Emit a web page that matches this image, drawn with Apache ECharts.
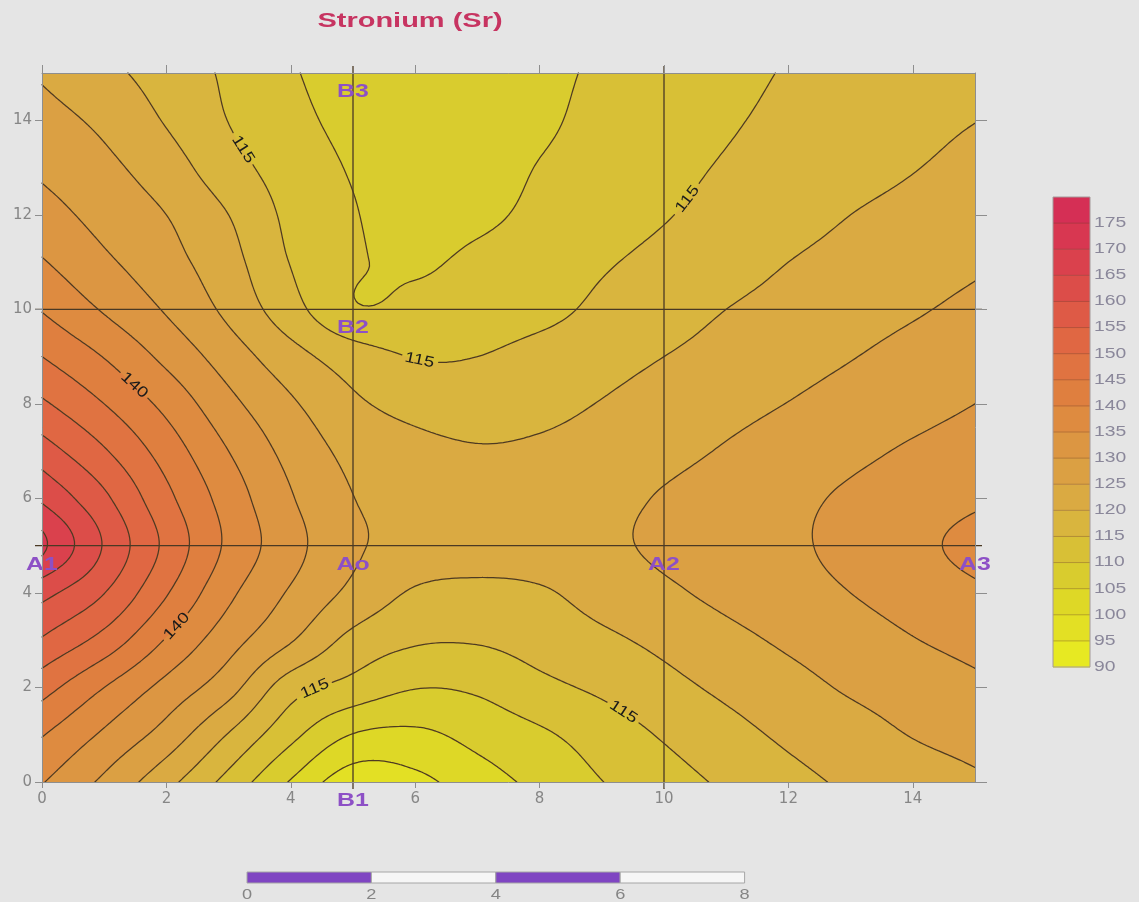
<!DOCTYPE html>
<html>
<head>
<meta charset="utf-8">
<title>Stronium (Sr)</title>
<script src="https://cdn.jsdelivr.net/npm/echarts@6.0.0/dist/echarts.min.js"></script>
<style>
  html, body { margin: 0; padding: 0; background: #e5e5e5; }
  #chart { width: 1139px; height: 902px; }
</style>
</head>
<body>
<div id="chart"></div>
<script>
// ---------------------------------------------------------------
// Survey grid (m) and Sr concentration at every grid node.
// srRows[j][i] is the value at x = gridX[i], y = gridY[j] (rows from y = 0 upward).
// ---------------------------------------------------------------
const gridX = [0, 1, 2, 3, 4, 5, 6, 7, 8, 9, 10, 11, 12, 13, 14, 15];
const gridY = [0, 1, 2, 3, 4, 5, 6, 7, 8, 9, 10, 11, 12, 13, 14, 15];
const srRows = [
  [135.3, 129.0, 121.6, 113.3, 104.6,  97.0,  98.6, 102.7, 106.3, 109.9, 112.9, 115.8, 118.5, 120.8, 122.6, 124.3], // y=0
  [140.3, 134.2, 128.0, 119.7, 111.4, 104.8, 104.0, 106.6, 109.2, 112.3, 115.5, 118.3, 120.9, 123.0, 125.2, 126.6], // y=1
  [147.0, 140.0, 133.4, 126.9, 117.2, 113.2, 110.2, 110.8, 113.7, 115.9, 118.5, 121.0, 123.3, 125.6, 127.3, 129.0], // y=2
  [154.5, 148.2, 139.6, 132.0, 125.4, 118.5, 115.6, 115.4, 117.0, 119.0, 121.2, 123.6, 125.8, 127.8, 129.8, 131.5], // y=3
  [161.6, 155.1, 145.4, 136.1, 129.4, 123.8, 119.4, 118.6, 119.4, 121.9, 124.1, 126.2, 128.1, 130.0, 132.0, 134.1], // y=4
  [171.0, 159.6, 148.8, 139.0, 131.8, 125.8, 123.4, 122.6, 122.8, 124.0, 125.9, 127.6, 129.2, 131.3, 133.7, 136.5], // y=5
  [164.2, 156.0, 146.3, 137.8, 130.4, 125.1, 123.2, 122.2, 122.4, 123.6, 125.4, 127.2, 128.9, 130.7, 132.5, 134.2], // y=6
  [157.3, 150.5, 142.8, 135.0, 128.4, 123.6, 121.5, 120.4, 120.8, 122.0, 123.6, 125.4, 127.2, 128.9, 130.6, 132.1], // y=7
  [150.8, 145.0, 138.6, 131.4, 125.7, 120.9, 118.4, 117.6, 118.6, 120.2, 121.9, 123.5, 125.1, 126.8, 128.4, 130.0], // y=8
  [145.0, 139.8, 133.7, 127.6, 121.9, 117.4, 114.8, 115.0, 116.7, 118.3, 120.0, 121.6, 123.2, 124.8, 126.5, 128.0], // y=9
  [139.7, 134.5, 129.5, 123.8, 116.9, 110.5, 111.3, 112.2, 113.6, 116.0, 118.0, 120.0, 121.5, 123.0, 124.5, 126.1], // y=10
  [135.4, 130.9, 126.8, 121.8, 114.8, 110.6, 109.4, 111.0, 112.7, 114.5, 116.3, 118.1, 120.0, 121.5, 122.9, 124.3], // y=11
  [132.0, 128.3, 125.0, 120.0, 113.8, 110.3, 108.2, 109.0, 111.1, 112.9, 114.7, 116.5, 118.2, 120.0, 121.4, 122.8], // y=12
  [129.1, 126.2, 122.3, 116.9, 112.7, 109.6, 107.8, 108.0, 110.2, 111.9, 113.7, 115.4, 116.8, 118.3, 119.8, 121.3], // y=13
  [126.8, 123.9, 119.6, 114.9, 111.4, 108.6, 107.1, 107.4, 109.2, 111.3, 112.9, 114.5, 116.0, 117.2, 118.6, 119.9], // y=14
  [124.4, 121.3, 117.8, 114.2, 110.5, 107.6, 106.5, 107.2, 108.8, 110.7, 112.2, 113.7, 115.3, 116.3, 117.2, 118.0]  // y=15
];

// Colour classes (ppm) and their fills
const bandEdges = [90, 95, 100, 105, 110, 115, 120, 125, 130, 135, 140, 145, 150, 155, 160, 165, 170, 175, 180];
const bandColors = [
  '#e7e922', '#e3e024', '#ded826', '#d9cc2e', '#d8c036', '#d9b53e',
  '#daaa42', '#dba043', '#dc9642', '#de8b40', '#df7f3f', '#e07341',
  '#e06743', '#de5a46', '#dc4d49', '#da414d', '#d83751', '#d52f55'
];
// Isolines
const contourLevels = [95, 100, 105, 110, 115, 120, 125, 130, 135, 140, 145, 150, 155, 160, 165, 170, 175];
// Inline isoline labels: level and approximate location
const labelLevels = [115, 115, 115, 140, 140, 115, 115];
const labelX = [3.16, 10.38, 6.06, 1.55, 2.20, 4.37, 9.38];
const labelY = [13.35, 12.33, 8.89, 8.45, 3.27, 2.00, 1.52];
// Sampling stations
const siteNames = ['A1', 'Ao', 'A2', 'A3', 'B1', 'B2', 'B3'];
const siteX = [0, 5, 10, 15, 5, 5, 5];
const siteY = [5, 5, 5, 5, 0, 10, 15];
// Survey traverses
const traverseX = [5, 10];
const traverseY = [5, 10];
// Axis ticks and scale bar divisions
const axisTicks = [0, 2, 4, 6, 8, 10, 12, 14];
const scaleBarTicks = [0, 2, 4, 6, 8];

// ---------------------------------------------------------------
// Bicubic (Catmull-Rom) surface through the grid nodes
// ---------------------------------------------------------------
const NX = gridX.length, NY = gridY.length;
const stepX = gridX[1] - gridX[0], stepY = gridY[1] - gridY[0];

function node(i, j) {
  if (i < 0) return 2 * node(0, j) - node(1, j);
  if (i > NX - 1) return 2 * node(NX - 1, j) - node(NX - 2, j);
  if (j < 0) return 2 * node(i, 0) - node(i, 1);
  if (j > NY - 1) return 2 * node(i, NY - 1) - node(i, NY - 2);
  return srRows[j][i];
}
function catmull(p0, p1, p2, p3, t) {
  const t2 = t * t, t3 = t2 * t;
  return 0.5 * (2 * p1 + (p2 - p0) * t + (2 * p0 - 5 * p1 + 4 * p2 - p3) * t2 + (3 * p1 - p0 - 3 * p2 + p3) * t3);
}
function field(x, y) {
  const gx = (x - gridX[0]) / stepX, gy = (y - gridY[0]) / stepY;
  const i = Math.max(0, Math.min(Math.floor(gx), NX - 2));
  const j = Math.max(0, Math.min(Math.floor(gy), NY - 2));
  const tx = gx - i, ty = gy - j;
  const c = [];
  for (let m = -1; m <= 2; m++) {
    c.push(catmull(node(i - 1, j + m), node(i, j + m), node(i + 1, j + m), node(i + 2, j + m), tx));
  }
  return catmull(c[0], c[1], c[2], c[3], ty);
}
function grad(x, y) {
  const e = 1e-3;
  return [(field(x + e, y) - field(x - e, y)) / (2 * e), (field(x, y + e) - field(x, y - e)) / (2 * e)];
}

// dense evaluation lattice used for the filled classes and isolines
const FN = 180;
const xMin = gridX[0], xMax = gridX[NX - 1], yMin = gridY[0], yMax = gridY[NY - 1];
const fdx = (xMax - xMin) / FN, fdy = (yMax - yMin) / FN;
const fine = [];
for (let j = 0; j <= FN; j++) {
  const r = new Float64Array(FN + 1);
  for (let i = 0; i <= FN; i++) r[i] = field(xMin + i * fdx, yMin + j * fdy);
  fine.push(r);
}

// place each isoline label exactly on its isoline
const isoLabels = labelLevels.map((L, k) => {
  let x = labelX[k], y = labelY[k];
  for (let it = 0; it < 30; it++) {
    const v = field(x, y) - L;
    if (Math.abs(v) < 1e-5) break;
    const g = grad(x, y), g2 = g[0] * g[0] + g[1] * g[1];
    if (g2 < 1e-9) break;
    x -= v * g[0] / g2; y -= v * g[1] / g2;
  }
  return { L: L, x: x, y: y };
});

function pixelMap(api) {
  const o = api.coord([0, 0]), u = api.coord([1, 1]);
  const sx = u[0] - o[0], sy = u[1] - o[1];
  return { sx: sx, sy: sy, f: (x, y) => [o[0] + x * sx, o[1] + y * sy] };
}
function fmt(p) { return p[0].toFixed(2) + ' ' + p[1].toFixed(2); }

function cellTriangles(i, j) {
  const xa = xMin + i * fdx, xb = xa + fdx, ya = yMin + j * fdy, yb = ya + fdy;
  const v00 = fine[j][i], v10 = fine[j][i + 1], v11 = fine[j + 1][i + 1], v01 = fine[j + 1][i];
  return [
    [[xa, ya, v00], [xb, ya, v10], [xb, yb, v11]],
    [[xa, ya, v00], [xb, yb, v11], [xa, yb, v01]]
  ];
}
function clipAbove(T, L) {
  const out = [];
  for (let k = 0; k < 3; k++) {
    const A = T[k], B = T[(k + 1) % 3];
    const ain = A[2] >= L, bin = B[2] >= L;
    if (ain) out.push(A);
    if (ain !== bin) {
      const t = (L - A[2]) / (B[2] - A[2]);
      out.push([A[0] + t * (B[0] - A[0]), A[1] + t * (B[1] - A[1]), L]);
    }
  }
  return out;
}
function triSegment(T, L) {
  const pts = [];
  for (let k = 0; k < 3; k++) {
    const A = T[k], B = T[(k + 1) % 3];
    if ((A[2] >= L) !== (B[2] >= L)) {
      const t = (L - A[2]) / (B[2] - A[2]);
      pts.push([A[0] + t * (B[0] - A[0]), A[1] + t * (B[1] - A[1])]);
    }
  }
  return pts.length === 2 ? pts : null;
}

// region where Sr >= L
function regionPath(L, f) {
  let d = '';
  for (let j = 0; j < FN; j++) {
    const ya = yMin + j * fdy, yb = ya + fdy;
    let run = -1;
    const flush = (iEnd) => {
      if (run >= 0) {
        const xa = xMin + run * fdx, xb = xMin + iEnd * fdx;
        d += 'M' + fmt(f(xa, ya)) + 'L' + fmt(f(xb, ya)) + 'L' + fmt(f(xb, yb)) + 'L' + fmt(f(xa, yb)) + 'Z';
        run = -1;
      }
    };
    for (let i = 0; i < FN; i++) {
      const a = fine[j][i], b = fine[j][i + 1], c = fine[j + 1][i + 1], e = fine[j + 1][i];
      const mn = Math.min(a, b, c, e), mx = Math.max(a, b, c, e);
      if (mn >= L) { if (run < 0) run = i; continue; }
      flush(i);
      if (mx < L) continue;
      for (const T of cellTriangles(i, j)) {
        const poly = clipAbove(T, L);
        if (poly.length >= 3) {
          d += 'M' + fmt(f(poly[0][0], poly[0][1]));
          for (let k = 1; k < poly.length; k++) d += 'L' + fmt(f(poly[k][0], poly[k][1]));
          d += 'Z';
        }
      }
    }
    flush(FN);
  }
  return d;
}

// isoline at level L, broken where its labels sit
function isolinePath(L, f, gaps) {
  let d = '';
  for (let j = 0; j < FN; j++) {
    for (let i = 0; i < FN; i++) {
      const a = fine[j][i], b = fine[j][i + 1], c = fine[j + 1][i + 1], e = fine[j + 1][i];
      const mn = Math.min(a, b, c, e), mx = Math.max(a, b, c, e);
      if (mn >= L || mx < L) continue;
      for (const T of cellTriangles(i, j)) {
        const s = triSegment(T, L);
        if (!s) continue;
        const p = f(s[0][0], s[0][1]), q = f(s[1][0], s[1][1]);
        const mx2 = (p[0] + q[0]) / 2, my2 = (p[1] + q[1]) / 2;
        let skip = false;
        for (const g of gaps) {
          if (Math.hypot(mx2 - g[0], my2 - g[1]) < g[2]) { skip = true; break; }
        }
        if (!skip) d += 'M' + fmt(p) + 'L' + fmt(q);
      }
    }
  }
  return d;
}

// ---------------------------------------------------------------
// Chart
// ---------------------------------------------------------------
const chart = echarts.init(document.getElementById('chart'), null, { renderer: 'canvas' });
const frameColor = '#8e8e8e';
const lineColor = '#4e3a22';

function axisCommon(pos, tickLen, showLabel) {
  return {
    type: 'value', min: 0, max: 15, interval: 2, position: pos, z: 10,
    axisLine: { show: true, onZero: false, lineStyle: { color: frameColor, width: 1 } },
    axisTick: { show: true, inside: false, length: tickLen, customValues: axisTicks, lineStyle: { color: frameColor, width: 1 } },
    axisLabel: {
      show: showLabel, customValues: axisTicks, margin: 10, color: '#868686',
      fontSize: 15, fontFamily: 'DejaVu Sans'
    },
    splitLine: { show: false }
  };
}

const option = {
  animation: false,
  backgroundColor: '#e5e5e5',
  grid: { left: 42, right: 164, top: 73, bottom: 120, containLabel: false },
  xAxis: [axisCommon('bottom', 6, true), axisCommon('top', 8, false)],
  yAxis: [axisCommon('left', 7, true), axisCommon('right', 12, false)],
  series: [
    {
      type: 'custom', name: 'Sr classes', coordinateSystem: 'cartesian2d', silent: true, z: 1,
      data: bandColors.map(() => [xMin, yMin]),
      renderItem: function (params, api) {
        const k = params.dataIndex;
        const M = pixelMap(api);
        const d = regionPath(bandEdges[k], M.f);
        return { type: 'path', shape: { pathData: d || 'M0 0Z' }, style: { fill: bandColors[k], lineWidth: 0 } };
      }
    },
    {
      type: 'custom', name: 'Sr isolines', coordinateSystem: 'cartesian2d', silent: true, z: 2,
      data: contourLevels.map(() => [xMin, yMin]),
      renderItem: function (params, api) {
        const L = contourLevels[params.dataIndex];
        const M = pixelMap(api);
        const gaps = isoLabels.filter(o => o.L === L).map(o => { const p = M.f(o.x, o.y); return [p[0], p[1], 19]; });
        const d = isolinePath(L, M.f, gaps);
        return { type: 'path', shape: { pathData: d || 'M0 0' }, style: { fill: null, stroke: lineColor, lineWidth: 1.25, lineCap: 'round' } };
      }
    },
    {
      type: 'custom', name: 'Traverses', coordinateSystem: 'cartesian2d', silent: true, z: 3,
      data: traverseX.concat(traverseY).map(() => [xMin, yMin]),
      renderItem: function (params, api) {
        const k = params.dataIndex, ext = 7;
        let a, b;
        if (k < traverseX.length) {
          const v = traverseX[k];
          a = api.coord([v, yMin]); b = api.coord([v, yMax]);
          a[1] += ext; b[1] -= ext;
        } else {
          const v = traverseY[k - traverseX.length];
          a = api.coord([xMin, v]); b = api.coord([xMax, v]);
          a[0] -= ext; b[0] += ext;
        }
        return { type: 'line', shape: { x1: a[0], y1: a[1], x2: b[0], y2: b[1] }, style: { stroke: '#4a3924', lineWidth: 1.3 } };
      }
    },
    {
      type: 'custom', name: 'Isoline labels', coordinateSystem: 'cartesian2d', silent: true, z: 4,
      data: isoLabels.map(() => [xMin, yMin]),
      renderItem: function (params, api) {
        const o = isoLabels[params.dataIndex];
        const M = pixelMap(api);
        const p = M.f(o.x, o.y);
        const g = grad(o.x, o.y);
        const gpx = g[0] / M.sx, gpy = g[1] / M.sy;
        let th = Math.atan2(gpx, -gpy);
        if (th > Math.PI / 2) th -= Math.PI;
        if (th < -Math.PI / 2) th += Math.PI;
        return {
          type: 'text', x: p[0], y: p[1], rotation: -th, scaleX: 1.25,
          style: {
            text: String(o.L), x: 0, y: 0, align: 'center', verticalAlign: 'middle',
            textAlign: 'center', textVerticalAlign: 'middle',
            fill: '#1a1a1a', font: '15px "Liberation Sans"'
          }
        };
      }
    },
    {
      type: 'custom', name: 'Stations', coordinateSystem: 'cartesian2d', silent: true, z: 5,
      data: siteNames.map((n, k) => [siteX[k], siteY[k]]),
      renderItem: function (params, api) {
        const k = params.dataIndex;
        const p = api.coord([siteX[k], siteY[k]]);
        return {
          type: 'text', x: p[0], y: p[1] + 19, scaleX: 1.38,
          style: {
            text: siteNames[k], x: 0, y: 0, align: 'center', verticalAlign: 'middle',
            textAlign: 'center', textVerticalAlign: 'middle',
            fill: '#8d50c6', font: 'bold 18px "Liberation Sans"'
          }
        };
      }
    }
  ]
};
chart.setOption(option);

// ---------------------------------------------------------------
// Title, colour key and scale bar
// ---------------------------------------------------------------
const unitPx = chart.convertToPixel({ xAxisIndex: 0 }, 1) - chart.convertToPixel({ xAxisIndex: 0 }, 0);
const graphics = [];
graphics.push({
  type: 'text', x: 410, y: 21, scaleX: 1.38, z: 20,
  style: {
    text: 'Stronium (Sr)', x: 0, y: 0, align: 'center', verticalAlign: 'middle',
    textAlign: 'center', textVerticalAlign: 'middle',
    fill: '#c73461', font: 'bold 21px "Liberation Sans"'
  }
});

// colour key
const keyLeft = 1053, keyW = 37, keyTop = 197, keyBottom = 667;
const nBands = bandColors.length;
const keyH = (keyBottom - keyTop) / nBands;
for (let k = 0; k < nBands; k++) {
  graphics.push({
    type: 'rect', z: 20,
    shape: { x: keyLeft, y: keyBottom - (k + 1) * keyH, width: keyW, height: keyH + 0.5 },
    style: { fill: bandColors[k], lineWidth: 0 }
  });
}
for (let k = 1; k < nBands; k++) {
  const yy = keyBottom - k * keyH;
  graphics.push({
    type: 'line', z: 21,
    shape: { x1: keyLeft, y1: yy, x2: keyLeft + keyW, y2: yy },
    style: { stroke: 'rgba(110,70,40,0.45)', lineWidth: 0.8 }
  });
}
graphics.push({
  type: 'rect', z: 22,
  shape: { x: keyLeft, y: keyTop, width: keyW, height: keyBottom - keyTop },
  style: { fill: null, stroke: '#a49a9a', lineWidth: 1 }
});
for (let k = 0; k < nBands; k++) {
  graphics.push({
    type: 'text', z: 22, x: keyLeft + keyW + 4, y: keyBottom - k * keyH, scaleX: 1.38,
    style: {
      text: String(bandEdges[k]), x: 0, y: 0, align: 'left', verticalAlign: 'middle',
      textAlign: 'left', textVerticalAlign: 'middle',
      fill: '#8a879a', font: '14px "Liberation Sans"'
    }
  });
}

// scale bar (same units as the horizontal axis)
const barLeft = 247, barTop = 872, barH = 11;
for (let k = 0; k < scaleBarTicks.length - 1; k++) {
  const xa = barLeft + scaleBarTicks[k] * unitPx, xb = barLeft + scaleBarTicks[k + 1] * unitPx;
  graphics.push({
    type: 'rect', z: 20,
    shape: { x: xa, y: barTop, width: xb - xa, height: barH },
    style: { fill: k % 2 === 0 ? '#7f45c2' : '#f6f6f6', stroke: '#a6a6a6', lineWidth: 1 }
  });
}
scaleBarTicks.forEach(t => {
  graphics.push({
    type: 'text', z: 20, x: barLeft + t * unitPx, y: barTop + barH + 12, scaleX: 1.3,
    style: {
      text: String(t), x: 0, y: 0, align: 'center', verticalAlign: 'middle',
      textAlign: 'center', textVerticalAlign: 'middle',
      fill: '#858585', font: '14px "Liberation Sans"'
    }
  });
});
chart.setOption({ graphic: { elements: graphics } });
</script>
</body>
</html>
